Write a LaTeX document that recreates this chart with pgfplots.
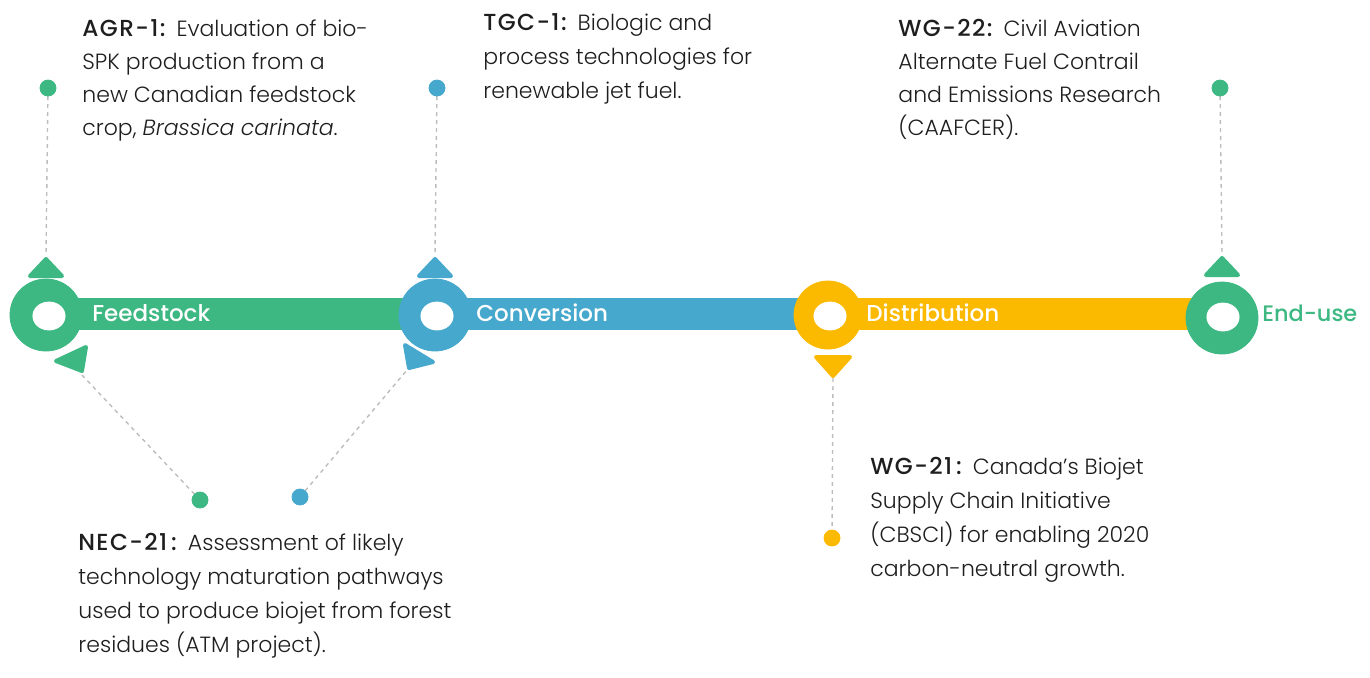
\documentclass[border=0pt]{standalone}
\usepackage{pgfplots}
\pgfplotsset{compat=1.18}
\usepackage{fontspec}
\setmainfont{Poppins}[UprightFont={* Light}, BoldFont={* Medium}, ItalicFont={* Light Italic}]
\newfontfamily\labelfont{Poppins}[UprightFont={* Medium}]
\newfontfamily\tagfont{Poppins}[UprightFont={* Medium}, LetterSpace=6]
\definecolor{cgreen}{HTML}{3DB882}
\definecolor{cblue}{HTML}{45A8CC}
\definecolor{cyellow}{HTML}{FBBA00}
\definecolor{ctext}{HTML}{1E1E1E}
\definecolor{cdash}{HTML}{BDBDBD}
\newcommand{\bodyfont}{\fontsize{11pt}{14pt}\selectfont}
\newcommand{\tag}[1]{{\tagfont\fontsize{11.6pt}{14pt}\selectfont #1}\hspace{1.5pt}}
\begin{document}
\begin{tikzpicture}
\begin{axis}[
  scale only axis, width=685pt, height=338.5pt,
  xmin=0, xmax=1370, ymin=0, ymax=677, y dir=reverse,
  hide axis, clip=false,
]
\path (axis cs:0,0) rectangle (axis cs:1370,677);
% dashed connectors
\addplot[cdash, line width=0.7pt, dash pattern=on 2pt off 2pt] coordinates {(48,88) (46,255)};
\addplot[cdash, line width=0.7pt, dash pattern=on 2pt off 2pt] coordinates {(437,88) (435,255)};
\addplot[cdash, line width=0.7pt, dash pattern=on 2pt off 2pt] coordinates {(1220,88) (1222,255)};
\addplot[cdash, line width=0.7pt, dash pattern=on 2pt off 2pt] coordinates {(833,378) (832,538)};
\addplot[cdash, line width=0.7pt, dash pattern=on 2pt off 2pt] coordinates {(200,500) (82,375)};
\addplot[cdash, line width=0.7pt, dash pattern=on 2pt off 2pt] coordinates {(300,497) (407,370)};
% bars
\addplot[cgreen, line width=16pt] coordinates {(46,314) (435,314)};
\addplot[cblue, line width=16pt] coordinates {(435,314) (828,314)};
\addplot[cyellow, line width=16pt] coordinates {(828,314) (1222,314)};
% rings
\addplot[only marks, mark=*, mark size=18pt, cgreen] coordinates {(46,315) (1222,318)};
\addplot[only marks, mark=*, mark size=18pt, cblue] coordinates {(435,315)};
\addplot[only marks, mark=*, mark size=17pt, cyellow] coordinates {(828,315)};
\addplot[only marks, mark=*, mark size=7pt, white, mark options={xscale=1.15}] coordinates {(49,316) (437,316) (830,316) (1223,317)};
% triangles
\addplot[fill=cgreen, draw=cgreen, line width=2pt, line join=round] coordinates {(30,276) (62,276) (46,259)} -- cycle;
\addplot[fill=cblue, draw=cblue, line width=2pt, line join=round] coordinates {(419,276) (451,276) (435,259)} -- cycle;
\addplot[fill=cgreen, draw=cgreen, line width=2pt, line join=round] coordinates {(1206,275) (1238,275) (1222,258)} -- cycle;
\addplot[fill=cgreen, draw=cgreen, line width=2pt, line join=round] coordinates {(56,361) (86,347) (82,371)} -- cycle;
\addplot[fill=cblue, draw=cblue, line width=2pt, line join=round] coordinates {(405,345) (433,362) (409,368)} -- cycle;
\addplot[fill=cyellow, draw=cyellow, line width=2pt, line join=round] coordinates {(816,357) (850,357) (833,376)} -- cycle;
% dots
\addplot[only marks, mark=*, mark size=4pt, cgreen] coordinates {(48,88) (1220,88) (200,500)};
\addplot[only marks, mark=*, mark size=4pt, cblue] coordinates {(437,88) (300,497)};
\addplot[only marks, mark=*, mark size=4pt, cyellow] coordinates {(832,538)};
% bar labels
\node[anchor=west, text=white, inner sep=0pt, font=\labelfont\fontsize{11.5pt}{12pt}\selectfont] at (axis cs:92,313) {Feedstock};
\node[anchor=west, text=white, inner sep=0pt, font=\labelfont\fontsize{11.5pt}{12pt}\selectfont] at (axis cs:476,313) {Conversion};
\node[anchor=west, text=white, inner sep=0pt, font=\labelfont\fontsize{11.5pt}{12pt}\selectfont] at (axis cs:866,313) {Distribution};
\node[anchor=west, text=cgreen, inner sep=0pt, font=\labelfont\fontsize{11.2pt}{12pt}\selectfont] at (axis cs:1262,313) {End-use};
\begin{scope}[every node/.style={anchor=base west, inner sep=0pt, text=ctext, font=\bodyfont}]
% AGR-1
\node at (axis cs:82,36) {\tag{AGR-1:} Evaluation of bio-};
\node at (axis cs:82,69) {SPK production from a};
\node at (axis cs:82,102) {new Canadian feedstock};
\node at (axis cs:82,135) {crop, \textit{Brassica carinata}.};
% TGC-1
\node at (axis cs:483,30) {\tag{TGC-1:} Biologic and};
\node at (axis cs:483,64) {process technologies for};
\node at (axis cs:483,98) {renewable jet fuel.};
% WG-22
\node at (axis cs:898,36) {\tag{WG-22:} Civil Aviation};
\node at (axis cs:898,69) {Alternate Fuel Contrail};
\node at (axis cs:898,102) {and Emissions Research};
\node at (axis cs:898,135) {(CAAFCER).};
% WG-21
\node at (axis cs:870,474) {\tag{WG-21\hspace{2pt}:} Canada’s Biojet};
\node at (axis cs:870,508) {Supply Chain Initiative};
\node at (axis cs:870,542) {(CBSCI) for enabling 2020};
\node at (axis cs:870,576) {carbon-neutral growth.};
% NEC-21
\node at (axis cs:78,550) {\tag{NEC-21\hspace{2pt}:} Assessment of likely};
\node at (axis cs:78,584) {technology maturation pathways};
\node at (axis cs:78,618) {used to produce biojet from forest};
\node at (axis cs:78,652) {residues (ATM project).};
\end{scope}
\end{axis}
\end{tikzpicture}
\end{document}
